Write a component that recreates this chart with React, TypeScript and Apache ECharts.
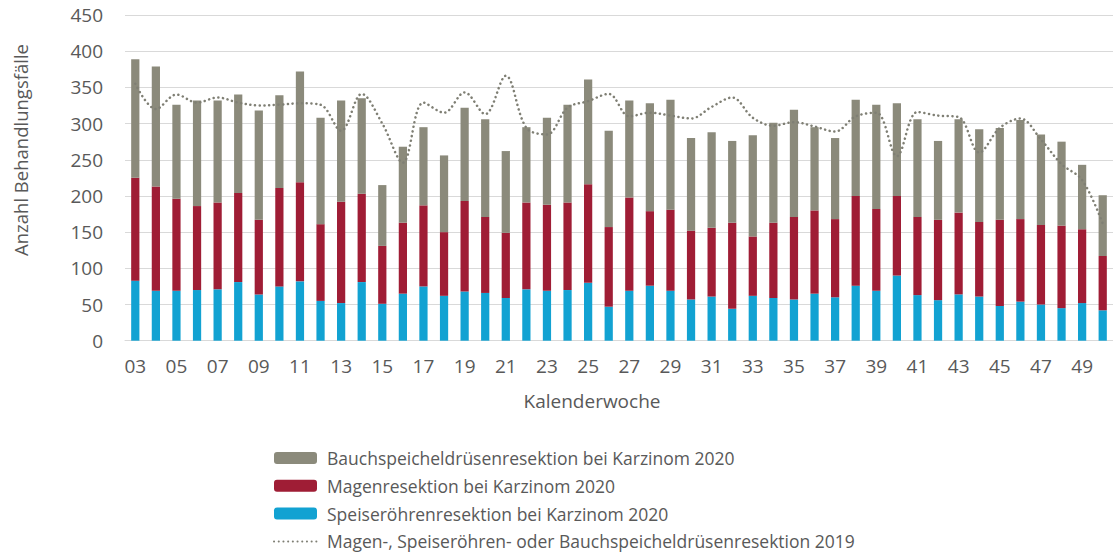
import React, { useEffect, useRef } from 'react';
import * as echarts from 'echarts';

const weeks = ['03','04','05','06','07','08','09','10','11','12','13','14','15','16','17','18','19','20','21','22','23','24','25','26','27','28','29','30','31','32','33','34','35','36','37','38','39','40','41','42','43','44','45','46','47','48','49','50'];

const speiseroehren2020 = [83,69,69,70,71,81,64,75,82,55,52,81,51,65,75,62,68,66,59,71,69,70,80,47,69,76,69,57,61,44,62,59,57,65,60,76,69,90,63,56,64,61,48,54,50,45,52,42];

const magen2020 = [142,144,127,116,120,123,103,136,137,106,140,122,80,98,112,88,125,105,90,120,119,121,136,110,129,103,112,95,95,119,82,104,114,115,108,124,113,110,108,111,113,103,119,114,110,114,102,75];

const bauchspeichel2020 = [164,166,130,146,141,136,151,128,153,147,140,132,84,105,108,106,129,135,113,104,120,135,145,133,134,149,152,128,132,113,140,138,148,115,112,133,144,128,135,109,129,128,127,137,125,116,89,84];

const gesamt2019 = [355,320,340,329,336,329,325,326,328,326,290,341,300,246,329,315,343,313,366,294,285,322,331,341,310,315,311,307,323,336,308,297,302,296,289,310,315,255,316,311,309,260,294,307,278,244,222,162];

const seriesNames = [
  'Bauchspeicheldrüsenresektion bei Karzinom 2020',
  'Magenresektion bei Karzinom 2020',
  'Speiseröhrenresektion bei Karzinom 2020',
  'Magen-, Speiseröhren- oder Bauchspeicheldrüsenresektion 2019',
];

const FONT = 'Open Sans';
const TEXT = '#595959';

export default function App() {
  const ref = useRef<HTMLDivElement>(null);
  useEffect(() => {
    const chart = echarts.init(ref.current!, null, { renderer: 'svg' });
    chart.setOption({
      animation: false,
      backgroundColor: '#ffffff',
      textStyle: { fontFamily: FONT },
      grid: { left: 125, right: -3, top: 15, bottom: 212.3, containLabel: false },
      xAxis: {
        type: 'category',
        data: weeks,
        axisTick: { show: false },
        axisLine: { lineStyle: { color: '#d9d9d9', width: 1 } },
        axisLabel: { interval: 1, color: TEXT, fontSize: 19, fontFamily: FONT, margin: 16 },
      },
      yAxis: {
        type: 'value',
        min: 0,
        max: 450,
        interval: 50,
        axisLine: { show: false },
        axisTick: { show: false },
        axisLabel: { color: TEXT, fontSize: 19, fontFamily: FONT, margin: 22 },
        splitLine: { lineStyle: { color: '#d9d9d9', width: 1 } },
      },
      legend: {
        orient: 'vertical',
        left: 273,
        top: 449,
        height: 110,
        padding: 0,
        itemWidth: 43,
        itemHeight: 12,
        itemGap: 9.8,
        data: [
          seriesNames[0],
          seriesNames[1],
          seriesNames[2],
          { name: seriesNames[3], itemStyle: { opacity: 0 } },
        ],
        textStyle: {
          color: TEXT,
          fontSize: 17.5,
          lineHeight: 16,
          fontFamily: FONT,
          padding: [0, 0, 0, 5],
        },
      },
      graphic: [
        {
          type: 'text',
          x: 20,
          y: 150,
          rotation: Math.PI / 2,
          style: {
            text: 'Anzahl Behandlungsfälle',
            fill: TEXT,
            font: `18.5px "${FONT}"`,
            align: 'center',
            verticalAlign: 'middle',
          },
        },
        {
          type: 'text',
          x: 592,
          y: 401,
          style: {
            text: 'Kalenderwoche',
            fill: TEXT,
            font: `19px "${FONT}"`,
            align: 'center',
            verticalAlign: 'middle',
          },
        },
      ],
      series: [
        {
          name: seriesNames[2],
          type: 'bar',
          stack: 'a',
          barWidth: '40%',
          data: speiseroehren2020,
          itemStyle: { color: '#12a2d2' },
        },
        {
          name: seriesNames[1],
          type: 'bar',
          stack: 'a',
          barWidth: '40%',
          data: magen2020,
          itemStyle: { color: '#9f1d35' },
        },
        {
          name: seriesNames[0],
          type: 'bar',
          stack: 'a',
          barWidth: '40%',
          data: bauchspeichel2020,
          itemStyle: { color: '#8b8a7b' },
        },
        {
          name: seriesNames[3],
          type: 'line',
          smooth: 0.35,
          symbol: 'circle',
          showSymbol: false,
          data: gesamt2019,
          itemStyle: { color: '#7f7f74' },
          lineStyle: { color: '#7f7f74', width: 2.5, type: [0.1, 4.6], cap: 'round' },
          z: 5,
        },
      ],
    });
    return () => chart.dispose();
  }, []);
  return (
    <div
      ref={ref}
      style={{ position: 'fixed', left: 0, top: 0, width: 1113, height: 553, background: '#fff' }}
    />
  );
}
